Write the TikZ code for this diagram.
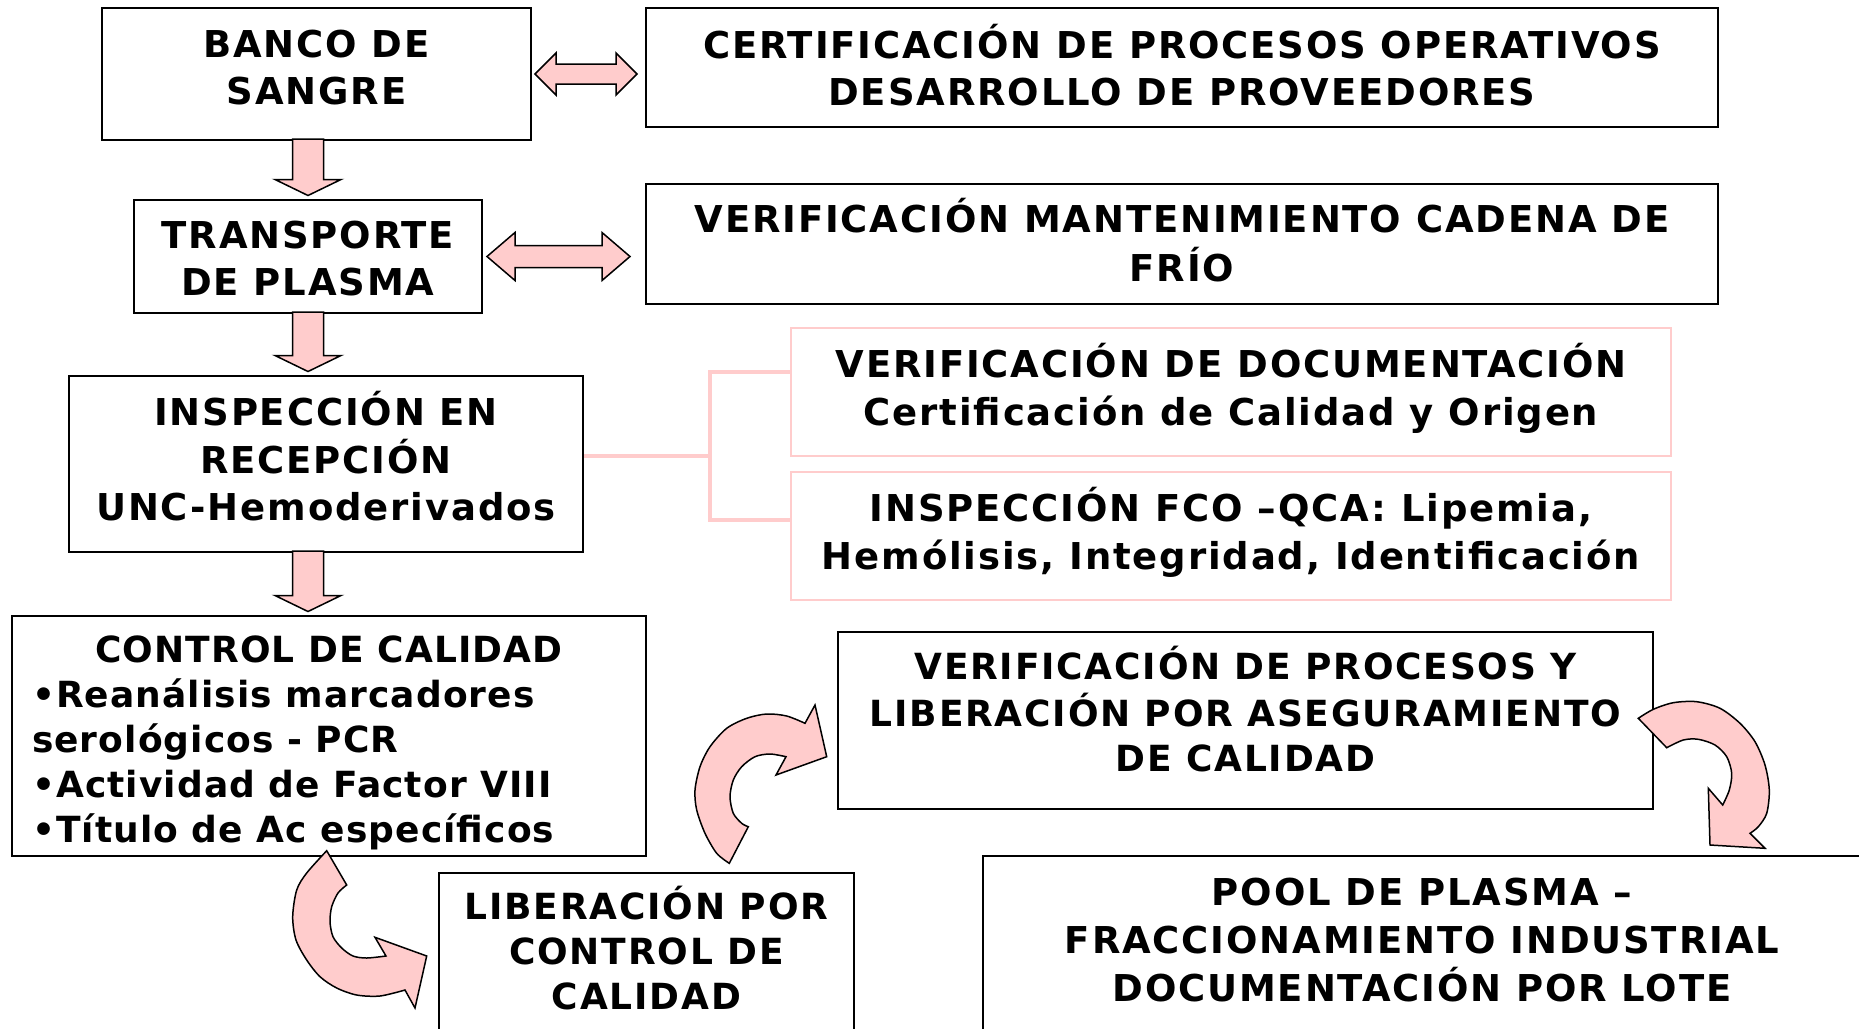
\documentclass[tikz,border=0pt]{standalone}
\usepackage{fontspec}
\newfontfamily\diafont[LetterSpace=5]{DejaVu Sans}
\newfontfamily\diafontc[LetterSpace=3]{DejaVu Sans}
\usetikzlibrary{calc}
\definecolor{pinkc}{HTML}{FFCCCC}
\tikzset{
  box/.style={draw=black, line width=2pt, fill=white, align=center, inner sep=0pt,
    font=\diafont\bfseries\fontsize{37}{47}\selectfont},
  boxs/.style={box, font=\diafont\bfseries\fontsize{36}{45}\selectfont},
  boxc/.style={box, font=\diafontc\bfseries\fontsize{36}{45}\selectfont},
  boxl/.style={box, font=\diafont\bfseries\fontsize{37}{48}\selectfont},
  pbox/.style={box, draw=pinkc, font=\diafont\bfseries\fontsize{37}{48}\selectfont},
  blockarrow/.style={draw=black, line width=1.5pt, fill=pinkc, line join=miter},
  conn/.style={draw=pinkc, line width=4pt},
}
\newcommand\tl[2]{\raisebox{#1}[\height][\depth]{\begin{tabular}{@{}c@{}}#2\end{tabular}}}
\newcommand\tll[2]{\raisebox{#1}[\height][\depth]{\begin{tabular}{@{}l@{}}#2\end{tabular}}}
\newcommand\downblock[3]{%
  \draw[blockarrow] let \p1=(#1), \p2=(#2.south), \p3=(#3.north) in
    (\x1-15.5pt,\y2+2pt) -- (\x1+15.5pt,\y2+2pt) -- (\x1+15.5pt,\y3+19.5pt)
    -- (\x1+33pt,\y3+19.5pt) -- (\x1,\y3+3.5pt) -- (\x1-33pt,\y3+19.5pt)
    -- (\x1-15.5pt,\y3+19.5pt) -- cycle;}
\newcommand\hblock[5]{%
  \draw[blockarrow] let \p1=(#1), \p2=(#2) in
    (\x1,\y1) -- (\x1+#5,\y1+#4) -- (\x1+#5,\y1+#3) -- (\x2-#5,\y1+#3)
    -- (\x2-#5,\y1+#4) -- (\x2,\y1) -- (\x2-#5,\y1-#4) -- (\x2-#5,\y1-#3)
    -- (\x1+#5,\y1-#3) -- (\x1+#5,\y1-#4) -- cycle;}
\begin{document}
\begin{tikzpicture}[x=1pt,y=-1pt]
\useasboundingbox[fill=white] (0,0) rectangle (1859,1028);
\clip (0,0) rectangle (1859,1028);

% boxes
\node[box, minimum width=429pt, minimum height=132pt] (banco) at (316.5,74)
  {\tl{2pt}{BANCO DE\\SANGRE}};
\node[box, minimum width=1072pt, minimum height=119pt] (cert) at (1182,67.5)
  {\tl{-4pt}{CERTIFICACIÓN DE PROCESOS OPERATIVOS\\DESARROLLO DE PROVEEDORES}};
\node[box, minimum width=348pt, minimum height=113pt] (transp) at (308,256.5)
  {\tl{-6pt}{TRANSPORTE\\DE PLASMA}};
\node[box, minimum width=1072pt, minimum height=120pt] (cadena) at (1182,244)
  {\tl{-3pt}{VERIFICACIÓN MANTENIMIENTO CADENA DE\\FRÍO}};
\node[box, minimum width=514pt, minimum height=176pt] (insp) at (326,464)
  {\tl{1pt}{INSPECCIÓN EN\\RECEPCIÓN\\UNC-Hemoderivados}};
\node[pbox, minimum width=880pt, minimum height=128pt] (doc) at (1231,392)
  {\tl{0pt}{VERIFICACIÓN DE DOCUMENTACIÓN\\Certificación de Calidad y Origen}};
\node[pbox, minimum width=880pt, minimum height=128pt] (fco) at (1231,536)
  {\tl{0pt}{INSPECCIÓN FCO –QCA: Lipemia,\\Hemólisis, Integridad, Identificación}};
\node[boxc, minimum width=634pt, minimum height=240pt] (control) at (329,736)
  {\tll{-7pt}{\makebox[594pt][c]{CONTROL DE CALIDAD}\\•Reanálisis marcadores\\serológicos - PCR\\•Actividad de Factor VIII\\•Título de Ac específicos}};
\node[boxs, minimum width=415pt, minimum height=157pt] (liber) at (646.5,951.5)
  {\tl{-3pt}{LIBERACIÓN POR\\CONTROL DE\\CALIDAD}};
\node[boxs, minimum width=815pt, minimum height=177pt] (verif) at (1245.5,720.5)
  {\tl{5pt}{VERIFICACIÓN DE PROCESOS Y\\LIBERACIÓN POR ASEGURAMIENTO\\DE CALIDAD}};
\node[boxl, minimum width=878pt, minimum height=184pt] (pool) at (1422,948)
  {\tl{4pt}{POOL DE PLASMA –\\FRACCIONAMIENTO INDUSTRIAL\\DOCUMENTACIÓN POR LOTE}};

% pink fork connector
\coordinate (fk) at (710,456);
\draw[conn] ([yshift=8pt]insp.east) -- (fk);
\draw[conn] ([yshift=20pt]doc.west) -| (fk) |- ([yshift=16pt]fco.west);

% straight block arrows
\downblock{transp.center}{banco}{transp}
\downblock{transp.center}{transp}{insp}
\downblock{transp.center}{insp}{control}
\hblock{[xshift=3pt]banco.east}{[xshift=-8pt]cert.west}{10pt}{21pt}{21pt}
\hblock{[xshift=4pt]transp.east}{[xshift=-15pt]cadena.west}{11pt}{24pt}{28pt}

% curved arrow: control -> liberacion
\draw[blockarrow] plot[smooth] coordinates {(326.7,850.7) (306.7,873) (296.7,890) (292.7,916.7) (296,940) (306.7,960) (320,976.7) (336.7,988) (356.7,995) (380,996) (405,990)}
  -- (415,1008) -- (426.7,956) -- (375,937.3)
  -- plot[smooth] coordinates {(386,956) (366.7,958) (353,956) (341.7,948) (333,936.7) (330,921.7) (331.7,906.7) (338,893) (346.7,885)}
  -- cycle;
% curved arrow: liberacion -> verificacion
\draw[blockarrow] plot[smooth] coordinates {(729.3,863.3) (716.7,853.3) (705,833.3) (696.7,810) (695,790) (700,766.7) (710,746.7) (726.7,728.3) (746.7,718.3) (766.7,714) (786.7,716) (805,723.3)}
  -- (815,705) -- (826.7,756.7) -- (776,775)
  -- plot[smooth] coordinates {(786,756.7) (770,754) (755,756.7) (741.7,766.7) (733.3,780) (730,796.7) (733.3,813.3) (741.7,823.3) (748.3,826.7)}
  -- cycle;
% curved arrow: verificacion -> pool
\draw[blockarrow] plot[smooth] coordinates {(1638.3,718.3) (1653.3,709.3) (1673.3,702.7) (1696.7,701.7) (1720,708.3) (1740,723.3) (1755,741.7) (1765,765) (1769.3,790) (1766.7,813.3) (1758.3,826.7) (1750,833.3)}
  -- (1765,848.3) -- (1710,845) -- (1708.3,788.3)
  -- plot[smooth] coordinates {(1722.7,805) (1729.3,790) (1731.7,773.3) (1726.7,756.7) (1715,745) (1698.3,739.3) (1683.3,740) (1666.7,747.7)}
  -- cycle;
\end{tikzpicture}
\end{document}
